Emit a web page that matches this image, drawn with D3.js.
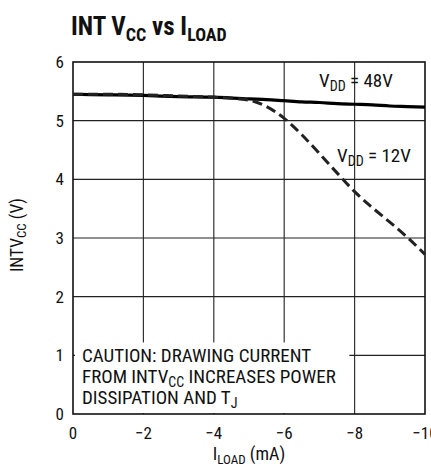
<!DOCTYPE html>
<meta charset="utf-8">
<style>
  body { margin: 0; background: #fff; }
  text { font-family: "Liberation Sans Narrow", "Arial Narrow", "Roboto Condensed", sans-serif; fill: #111; }
</style>
<script src="https://d3js.org/d3.v7.min.js"></script>
<div id="chart"></div>
<script>
// data
var loadCurrent = [0, -1, -2, -3, -4, -5, -5.5, -6, -6.5, -7, -7.5, -8, -8.5, -9, -9.5, -10];
var vdd48 = [5.45, 5.44, 5.43, 5.41, 5.40, 5.37, 5.36, 5.34, 5.32, 5.31, 5.29, 5.28, 5.27, 5.25, 5.24, 5.23];
var vdd12 = [5.45, 5.45, 5.44, 5.42, 5.40, 5.35, 5.24, 5.04, 4.76, 4.44, 4.11, 3.79, 3.52, 3.27, 3.01, 2.72];
var xTicks = [0, -2, -4, -6, -8, -10];
var yTicks = [0, 1, 2, 3, 4, 5, 6];

var W = 431, H = 466;
var margin = {top: 62, right: 6, bottom: 52, left: 73};

var svg = d3.select("#chart").append("svg")
    .attr("width", W)
    .attr("height", H);

var x = d3.scaleLinear().domain([0, -10]).range([margin.left, W - margin.right]);
var y = d3.scaleLinear().domain([0, 6]).range([H - margin.bottom, margin.top]);

// grid
svg.append("g").selectAll("line")
  .data(xTicks.slice(1, -1)).join("line")
    .attr("x1", d => x(d)).attr("x2", d => x(d))
    .attr("y1", y(6)).attr("y2", y(0))
    .attr("stroke", "#333").attr("stroke-width", 1.2);
svg.append("g").selectAll("line")
  .data(yTicks.slice(1, -1)).join("line")
    .attr("x1", x(0)).attr("x2", x(-10))
    .attr("y1", d => y(d)).attr("y2", d => y(d))
    .attr("stroke", "#222").attr("stroke-width", 1.2);

// caution box covers the grid
svg.append("rect")
    .attr("x", x(0) + 2).attr("y", y(1.22))
    .attr("width", x(-7.85) - x(0) - 2).attr("height", y(0) - y(1.22) - 1)
    .attr("fill", "#fff");

// frame
svg.append("rect")
    .attr("x", x(0)).attr("y", y(6))
    .attr("width", x(-10) - x(0)).attr("height", y(0) - y(6))
    .attr("fill", "none").attr("stroke", "#111").attr("stroke-width", 1.6);

var line = d3.line().x((d, i) => x(loadCurrent[i])).y(d => y(d)).curve(d3.curveMonotoneX);

svg.append("path").datum(vdd48)
    .attr("d", line)
    .attr("fill", "none").attr("stroke", "#000").attr("stroke-width", 3.2);
svg.append("path").datum(vdd12)
    .attr("d", line)
    .attr("fill", "none").attr("stroke", "#222").attr("stroke-width", 3)
    .attr("stroke-dasharray", "10,5");

// axes tick labels
svg.append("g").selectAll("text")
  .data(yTicks).join("text")
    .attr("x", x(0) - 9).attr("y", d => y(d) + 6)
    .attr("text-anchor", "end").attr("font-size", 17)
    .text(d => d);
svg.append("g").selectAll("text")
  .data(xTicks).join("text")
    .attr("x", d => x(d)).attr("y", y(0) + 25)
    .attr("text-anchor", "middle").attr("font-size", 17)
    .text(d => d === 0 ? "0" : "\u2212" + Math.abs(d));

// title
var title = svg.append("text").attr("x", 71).attr("y", 35)
    .attr("font-size", 25).attr("font-weight", "bold");
title.append("tspan").text("INT V");
title.append("tspan").attr("font-size", 18).attr("dy", 6).text("CC");
title.append("tspan").attr("dy", -6).text(" vs I");
title.append("tspan").attr("font-size", 18).attr("dy", 6).text("LOAD");

// axis titles
var yl = svg.append("text")
    .attr("transform", "translate(23," + y(3.05) + ") rotate(-90)")
    .attr("text-anchor", "middle").attr("font-size", 17.5);
yl.append("tspan").text("INTV");
yl.append("tspan").attr("font-size", 13).attr("dy", 3).text("CC");
yl.append("tspan").attr("dy", -3).text(" (V)");

var xl = svg.append("text")
    .attr("x", x(-5)).attr("y", H - 6)
    .attr("text-anchor", "middle").attr("font-size", 18);
xl.append("tspan").text("I");
xl.append("tspan").attr("font-size", 13).attr("dy", 4).text("LOAD");
xl.append("tspan").attr("dy", -4).text(" (mA)");

// series labels
function vddLabel(px, py, v) {
  var t = svg.append("text").attr("x", px).attr("y", py).attr("font-size", 19);
  t.append("tspan").text("V");
  t.append("tspan").attr("font-size", 14).attr("dy", 4).text("DD");
  t.append("tspan").attr("dy", -4).text(" = " + v);
}
vddLabel(319, 87, "48V");
vddLabel(337, 162, "12V");

// caution note
var note = svg.append("g").attr("font-size", 19);
note.append("text").attr("x", 82).attr("y", 362).text("CAUTION: DRAWING CURRENT");
var n2 = note.append("text").attr("x", 82).attr("y", 383);
n2.append("tspan").text("FROM INTV");
n2.append("tspan").attr("font-size", 14).attr("dy", 4).text("CC");
n2.append("tspan").attr("dy", -4).text(" INCREASES POWER");
var n3 = note.append("text").attr("x", 82).attr("y", 404);
n3.append("tspan").text("DISSIPATION AND T");
n3.append("tspan").attr("font-size", 14).attr("dy", 4).text("J");
</script>
